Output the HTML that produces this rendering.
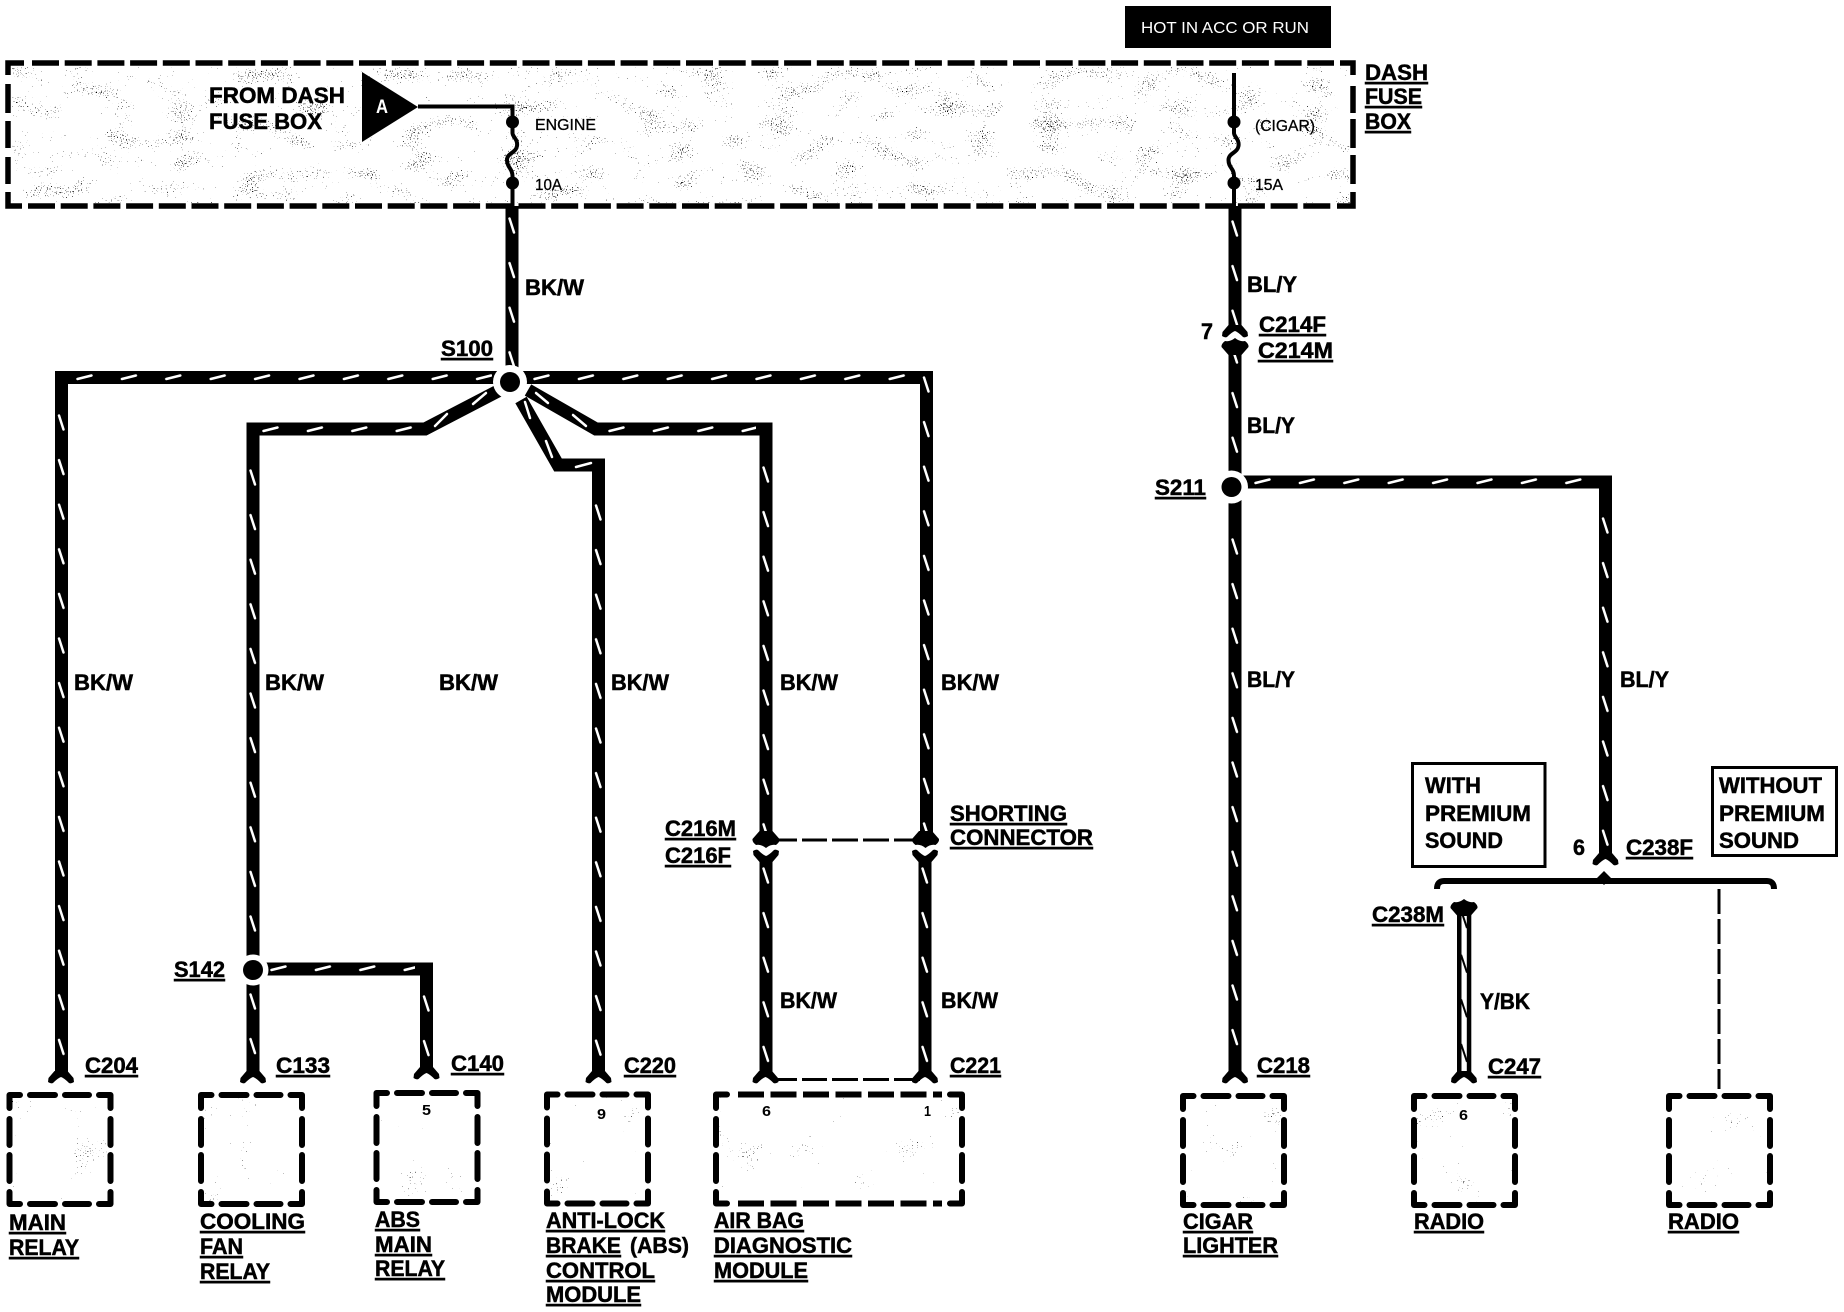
<!DOCTYPE html>
<html><head><meta charset="utf-8"><style>
html,body{margin:0;padding:0;background:#fff}
svg{display:block}
text{font-family:"Liberation Sans",Arial,sans-serif;fill:#000}
.b{font-weight:700;font-size:22px;stroke:#000;stroke-width:.5px}
.u{font-weight:700;font-size:22px;text-decoration:underline;stroke:#000;stroke-width:.5px}
.s{font-size:16px;stroke:#000;stroke-width:.3px}
.n{font-size:15px;font-weight:700}
.w{fill:none;stroke:#000;stroke-width:13;stroke-linejoin:miter}
.t{fill:none;stroke:#000;stroke-width:4}
.d{fill:none;stroke:#000;stroke-width:3}
.k{stroke:#fff;stroke-width:2.500;stroke-linecap:round}
</style></head><body>
<svg xmlns="http://www.w3.org/2000/svg" width="1844" height="1312" viewBox="0 0 1844 1312">
<defs>
<pattern id="vp" patternUnits="userSpaceOnUse" width="13" height="44.6"><line class="k" x1="4" y1="1.5" x2="8.5" y2="15.5"/></pattern>
<pattern id="hp" patternUnits="userSpaceOnUse" width="44.4" height="13"><line class="k" x1="1.5" y1="8" x2="15.5" y2="4.5"/></pattern>
<pattern id="zp" patternUnits="userSpaceOnUse" width="14" height="44.6"><line x1="4" y1="0" x2="10" y2="18" stroke="#000" stroke-width="2"/></pattern>
<filter id="st" x="0" y="0" width="1" height="1" color-interpolation-filters="sRGB">
<feTurbulence type="fractalNoise" baseFrequency="0.8" numOctaves="1" seed="3"/>
<feColorMatrix values="1 0 0 0 0 1 0 0 0 0 1 0 0 0 0 0 0 0 0 1" result="f"/>
<feTurbulence type="fractalNoise" baseFrequency="0.03 0.06" numOctaves="1" seed="8"/>
<feColorMatrix values="1 0 0 0 0 1 0 0 0 0 1 0 0 0 0 0 0 0 0 1" result="c"/>
<feComposite in="f" in2="c" operator="arithmetic" k1="0" k2="1" k3="0.5" k4="-0.2"/>
<feColorMatrix values="0 0 0 0 0 0 0 0 0 0 0 0 0 0 0 40 0 0 0 -32"/>
</filter>
<filter id="st2" x="0" y="0" width="1" height="1" color-interpolation-filters="sRGB">
<feTurbulence type="fractalNoise" baseFrequency="0.8" numOctaves="1" seed="11"/>
<feColorMatrix values="1 0 0 0 0 1 0 0 0 0 1 0 0 0 0 0 0 0 0 1" result="f"/>
<feTurbulence type="fractalNoise" baseFrequency="0.03" numOctaves="1" seed="5"/>
<feColorMatrix values="1 0 0 0 0 1 0 0 0 0 1 0 0 0 0 0 0 0 0 1" result="c"/>
<feComposite in="f" in2="c" operator="arithmetic" k1="0" k2="1" k3="0.5" k4="-0.27"/>
<feColorMatrix values="0 0 0 0 0 0 0 0 0 0 0 0 0 0 0 40 0 0 0 -32"/>
</filter>
<path id="box" fill="none" stroke="#000" stroke-width="6" stroke-linecap="round" stroke-linejoin="round" d="M0 13V0H10.500M20.500 0H45.500M55.500 0H79.500M89.500 0H101V13M101 24V50M101 60V86M101 97V109H89.500M79.500 109H55.500M45.500 109H20.500M10.500 109H0V97M0 86V60M0 50V24"/>
<path id="yf" d="M-6.500 -12L-12.500 -5L-13 -1Q-10 1 -8 0Q-3 -5 0 -6Q3 -5 8 0Q10 1 13 -1L12.500 -5L6.500 -12Z"/>
<path id="ar" d="M-6.500 -9L-13.500 -1Q-14 2 -10 5Q-5 4 0 8Q5 4 10 5Q14 2 13.500 -1L6.500 -9Z"/>
</defs>

<!-- stipple -->
<rect x="12" y="67" width="1338" height="136" fill="#000" filter="url(#st)"/>
<rect x="12" y="1098" width="96" height="103" fill="#000" filter="url(#st2)"/>
<rect x="204" y="1098" width="96" height="103" fill="#000" filter="url(#st2)"/>
<rect x="380" y="1096" width="96" height="103" fill="#000" filter="url(#st2)"/>
<rect x="550" y="1097" width="96" height="103" fill="#000" filter="url(#st2)"/>
<rect x="719" y="1097" width="240" height="103" fill="#000" filter="url(#st2)"/>
<rect x="1186" y="1099" width="96" height="103" fill="#000" filter="url(#st2)"/>
<rect x="1417" y="1099" width="96" height="103" fill="#000" filter="url(#st2)"/>
<rect x="1672" y="1099" width="96" height="103" fill="#000" filter="url(#st2)"/>

<!-- hot label -->
<rect x="1125" y="6" width="206" height="42" fill="#000"/>
<text x="1141" y="33" style="font-size:16px;fill:#fff" textLength="168" lengthAdjust="spacingAndGlyphs">HOT IN ACC OR RUN</text>

<!-- dash fuse box -->
<g fill="none" stroke="#000" stroke-width="5.500">
<path d="M8 75V63H24M8 192V206H22M1353 75V63H1340M1353 192V206H1337"/>
<path d="M8 84V113M8 121V148M8 157V184M1353 86V113M1353 119V148M1353 155V184"/>
<line x1="32" y1="63" x2="1334" y2="63" stroke-dasharray="27 5.700"/>
<line x1="28" y1="206" x2="1331" y2="206" stroke-dasharray="27 5.700"/>
</g>

<!-- triangle and fuses -->
<polygon points="362,72 418,107 362,142" fill="#000"/>
<text x="376" y="113" style="font-size:19px;fill:#fff;font-weight:700" textLength="12" lengthAdjust="spacingAndGlyphs">A</text>
<path class="t" d="M418 106.500H512.500V133C512.500 137 518 139 517 146C516 153 507 153 507 160C507 168 512.500 168 512.500 176V206"/>
<circle cx="512.500" cy="122" r="6.500"/><circle cx="512.500" cy="183" r="6.500"/>
<path class="t" d="M1234 73V133C1234 137 1239.500 139 1238.500 146C1237.500 153 1228.500 153 1228.500 160C1228.500 168 1234 168 1234 176V206"/>
<circle cx="1234" cy="122" r="6.500"/><circle cx="1234" cy="183" r="6.500"/>

<!-- wires left -->
<path class="w" d="M512 206V372"/>
<path class="w" d="M500 377.500H61.500V1072"/>
<path class="w" d="M500 377.500H926.500V838"/>
<path class="w" d="M500 390L425 429H253V1072"/>
<path class="w" d="M521 400L558 465H598.500V1072"/>
<path class="w" d="M528 390L596 429H766V838"/>
<path class="w" d="M253 969H426.500V1068"/>
<path class="w" d="M766 858V1072"/>
<path class="w" d="M925 858V1072"/>
<!-- wires right -->
<path class="w" d="M1235 206V326"/>
<path class="w" d="M1235 345V1072"/>
<path class="w" d="M1231 482H1605.500V856"/>

<!-- dashed links -->
<path class="d" d="M772 840H797M802 840H827M832 840H858M863 840H889M894 840H920"/>
<path class="d" d="M772 1079.500H797M802 1079.500H827M832 1079.500H858M863 1079.500H889M894 1079.500H920"/>

<!-- ticks -->
<rect x="0" y="0" width="13" height="153" transform="translate(505.500,217)" fill="url(#vp)"/>
<rect x="0" y="0" width="13" height="658" transform="translate(55,414)" fill="url(#vp)"/>
<rect x="0" y="0" width="13" height="480" transform="translate(246.500,469)" fill="url(#vp)"/>
<rect x="0" y="0" width="13" height="78" transform="translate(246.500,993)" fill="url(#vp)"/>
<rect x="0" y="0" width="13" height="568" transform="translate(592,504)" fill="url(#vp)"/>
<rect x="0" y="0" width="13" height="372" transform="translate(759.500,466)" fill="url(#vp)"/>
<rect x="0" y="0" width="13" height="462" transform="translate(920,376)" fill="url(#vp)"/>
<rect x="0" y="0" width="13" height="205" transform="translate(759.500,867)" fill="url(#vp)"/>
<rect x="0" y="0" width="13" height="205" transform="translate(918.500,867)" fill="url(#vp)"/>
<rect x="0" y="0" width="13" height="75" transform="translate(420,995)" fill="url(#vp)"/>
<rect x="0" y="0" width="13" height="106" transform="translate(1228.500,220)" fill="url(#vp)"/>
<rect x="0" y="0" width="13" height="120" transform="translate(1228.500,347)" fill="url(#vp)"/>
<rect x="0" y="0" width="13" height="534" transform="translate(1228.500,538)" fill="url(#vp)"/>
<rect x="0" y="0" width="13" height="339" transform="translate(1599,517)" fill="url(#vp)"/>
<rect x="0" y="0" width="416" height="13" transform="translate(76,371)" fill="url(#hp)"/>
<rect x="0" y="0" width="382" height="13" transform="translate(533,371)" fill="url(#hp)"/>
<rect x="0" y="0" width="160" height="13" transform="translate(262,423)" fill="url(#hp)"/>
<rect x="0" y="0" width="148" height="13" transform="translate(608,423)" fill="url(#hp)"/>
<rect x="0" y="0" width="145" height="13" transform="translate(270,962)" fill="url(#hp)"/>
<rect x="0" y="0" width="336" height="13" transform="translate(1254,475)" fill="url(#hp)"/>
<g>
<line class="k" x1="435" y1="426" x2="447" y2="414"/><line class="k" x1="473" y1="404" x2="486" y2="393"/>
<line class="k" x1="536" y1="393" x2="548" y2="403"/><line class="k" x1="573" y1="415" x2="586" y2="426"/>
<line class="k" x1="525" y1="402" x2="530" y2="418"/><line class="k" x1="546" y1="441" x2="552" y2="457"/>
<line class="k" x1="576" y1="467" x2="591" y2="463"/>
</g>

<!-- splices -->
<circle cx="510" cy="382" r="17" fill="#fff"/><circle cx="510" cy="382" r="10"/>
<circle cx="253" cy="970" r="15.500" fill="#fff"/><circle cx="253" cy="970" r="10"/>
<circle cx="1231.500" cy="487" r="16.500" fill="#fff"/><circle cx="1231.500" cy="487" r="10"/>

<!-- connectors at boxes -->
<use href="#yf" transform="translate(61,1083)"/>
<use href="#yf" transform="translate(253,1083)"/>
<use href="#yf" transform="translate(426.500,1079)"/>
<use href="#yf" transform="translate(598.500,1083)"/>
<use href="#yf" transform="translate(765.500,1083)"/>
<use href="#yf" transform="translate(925,1083)"/>
<use href="#yf" transform="translate(1235,1083)"/>
<use href="#yf" transform="translate(1464,1083)"/>
<use href="#yf" transform="translate(1605.500,865)"/>
<!-- C216 -->
<use href="#ar" transform="translate(766,840)"/>
<use href="#ar" transform="translate(925.500,840)"/>
<use href="#yf" transform="translate(766,850) scale(1,-1)"/>
<use href="#yf" transform="translate(925,850) scale(1,-1)"/>
<!-- C214 -->
<use href="#yf" transform="translate(1235,337)"/>
<use href="#ar" transform="translate(1235,346) scale(1,-1)"/>

<!-- C238M radio wire -->
<use href="#ar" transform="translate(1464,907) scale(1,-1)"/>
<rect x="1457" y="905" width="4.500" height="170"/><rect x="1466.800" y="905" width="4.500" height="170"/>
<rect x="0" y="0" width="14" height="165" transform="translate(1457,910)" fill="url(#zp)"/>

<!-- bracket -->
<path d="M1437 889Q1437 881 1444 881H1767Q1774 881 1774 889" fill="none" stroke="#000" stroke-width="6"/>
<polygon points="1597,878 1604,871 1611,878 1604,885"/>
<path d="M1719 889V1089" fill="none" stroke="#000" stroke-width="3" stroke-dasharray="25 5"/>

<!-- component boxes -->
<use href="#box" transform="translate(9.500,1095)"/>
<use href="#box" transform="translate(201,1095)"/>
<use href="#box" transform="translate(376.500,1093)"/>
<use href="#box" transform="translate(547,1094.500)"/>
<use href="#box" transform="translate(1183,1096)"/>
<use href="#box" transform="translate(1414,1096)"/>
<use href="#box" transform="translate(1669,1096)"/>
<path fill="none" stroke="#000" stroke-width="6" stroke-linecap="round" stroke-linejoin="round" d="M716 1108V1094.500H727M962 1108V1094.500H950M716 1119V1145M716 1155V1181M716 1192V1203.500H727M962 1119V1145M962 1155V1181M962 1192V1203.500H950"/>
<line x1="738" y1="1094.500" x2="942" y2="1094.500" stroke="#000" stroke-width="6" stroke-dasharray="26 6.500"/>
<line x1="738" y1="1203.500" x2="942" y2="1203.500" stroke="#000" stroke-width="6" stroke-dasharray="26 6.500"/>

<!-- premium boxes -->
<rect x="1412.500" y="763.500" width="132.500" height="103" fill="none" stroke="#000" stroke-width="3"/>
<rect x="1712.500" y="767.500" width="124" height="88" fill="none" stroke="#000" stroke-width="3"/>

<!-- labels -->
<text x="209" y="103" class="b" textLength="136" lengthAdjust="spacingAndGlyphs">FROM DASH</text>
<text x="209" y="129" class="b" textLength="113" lengthAdjust="spacingAndGlyphs">FUSE BOX</text>
<text x="535" y="130" class="s" textLength="61" lengthAdjust="spacingAndGlyphs">ENGINE</text>
<text x="535" y="190" class="s" textLength="27" lengthAdjust="spacingAndGlyphs">10A</text>
<text x="1255" y="131" class="s" textLength="60" lengthAdjust="spacingAndGlyphs">(CIGAR)</text>
<text x="1255" y="190" class="s" textLength="28" lengthAdjust="spacingAndGlyphs">15A</text>
<text x="1365" y="80" class="u" textLength="63" lengthAdjust="spacingAndGlyphs">DASH</text>
<text x="1365" y="104" class="u" textLength="57" lengthAdjust="spacingAndGlyphs">FUSE</text>
<text x="1365" y="129" class="u" textLength="46" lengthAdjust="spacingAndGlyphs">BOX</text>

<text x="525" y="295" class="b" textLength="59" lengthAdjust="spacingAndGlyphs">BK/W</text>
<text x="441" y="356" class="u" textLength="52" lengthAdjust="spacingAndGlyphs">S100</text>
<text x="74" y="690" class="b" textLength="59" lengthAdjust="spacingAndGlyphs">BK/W</text>
<text x="265" y="690" class="b" textLength="59" lengthAdjust="spacingAndGlyphs">BK/W</text>
<text x="439" y="690" class="b" textLength="59" lengthAdjust="spacingAndGlyphs">BK/W</text>
<text x="611" y="690" class="b" textLength="58" lengthAdjust="spacingAndGlyphs">BK/W</text>
<text x="780" y="690" class="b" textLength="58" lengthAdjust="spacingAndGlyphs">BK/W</text>
<text x="941" y="690" class="b" textLength="58" lengthAdjust="spacingAndGlyphs">BK/W</text>
<text x="780" y="1008" class="b" textLength="57" lengthAdjust="spacingAndGlyphs">BK/W</text>
<text x="941" y="1008" class="b" textLength="57" lengthAdjust="spacingAndGlyphs">BK/W</text>

<text x="1247" y="292" class="b" textLength="50" lengthAdjust="spacingAndGlyphs">BL/Y</text>
<text x="1247" y="433" class="b" textLength="48" lengthAdjust="spacingAndGlyphs">BL/Y</text>
<text x="1247" y="687" class="b" textLength="48" lengthAdjust="spacingAndGlyphs">BL/Y</text>
<text x="1620" y="687" class="b" textLength="49" lengthAdjust="spacingAndGlyphs">BL/Y</text>
<text x="1480" y="1009" class="b" textLength="50" lengthAdjust="spacingAndGlyphs">Y/BK</text>
<text x="1201" y="339" class="b" textLength="12" lengthAdjust="spacingAndGlyphs">7</text>
<text x="1573" y="855" class="b" textLength="12" lengthAdjust="spacingAndGlyphs">6</text>

<text x="1259" y="332" class="u" textLength="67" lengthAdjust="spacingAndGlyphs">C214F</text>
<text x="1258" y="358" class="u" textLength="75" lengthAdjust="spacingAndGlyphs">C214M</text>
<text x="1155" y="495" class="u" textLength="51" lengthAdjust="spacingAndGlyphs">S211</text>
<text x="174" y="977" class="u" textLength="51" lengthAdjust="spacingAndGlyphs">S142</text>
<text x="665" y="836" class="u" textLength="71" lengthAdjust="spacingAndGlyphs">C216M</text>
<text x="665" y="863" class="u" textLength="66" lengthAdjust="spacingAndGlyphs">C216F</text>
<text x="950" y="821" class="u" textLength="117" lengthAdjust="spacingAndGlyphs">SHORTING</text>
<text x="950" y="845" class="u" textLength="143" lengthAdjust="spacingAndGlyphs">CONNECTOR</text>
<text x="1626" y="855" class="u" textLength="67" lengthAdjust="spacingAndGlyphs">C238F</text>
<text x="1372" y="922" class="u" textLength="72" lengthAdjust="spacingAndGlyphs">C238M</text>

<text x="85" y="1073" class="u" textLength="53" lengthAdjust="spacingAndGlyphs">C204</text>
<text x="276" y="1073" class="u" textLength="54" lengthAdjust="spacingAndGlyphs">C133</text>
<text x="451" y="1071" class="u" textLength="53" lengthAdjust="spacingAndGlyphs">C140</text>
<text x="624" y="1073" class="u" textLength="52" lengthAdjust="spacingAndGlyphs">C220</text>
<text x="950" y="1073" class="u" textLength="51" lengthAdjust="spacingAndGlyphs">C221</text>
<text x="1257" y="1073" class="u" textLength="53" lengthAdjust="spacingAndGlyphs">C218</text>
<text x="1488" y="1074" class="u" textLength="53" lengthAdjust="spacingAndGlyphs">C247</text>

<text x="422" y="1115" class="n" textLength="9" lengthAdjust="spacingAndGlyphs">5</text>
<text x="597" y="1119" class="n" textLength="9" lengthAdjust="spacingAndGlyphs">9</text>
<text x="762" y="1116" class="n" textLength="9" lengthAdjust="spacingAndGlyphs">6</text>
<text x="924" y="1116" class="n" textLength="7" lengthAdjust="spacingAndGlyphs">1</text>
<text x="1459" y="1120" class="n" textLength="9" lengthAdjust="spacingAndGlyphs">6</text>

<text x="1425" y="793" class="b" textLength="56" lengthAdjust="spacingAndGlyphs">WITH</text>
<text x="1425" y="821" class="b" textLength="106" lengthAdjust="spacingAndGlyphs">PREMIUM</text>
<text x="1425" y="848" class="b" textLength="78" lengthAdjust="spacingAndGlyphs">SOUND</text>
<text x="1719" y="793" class="b" textLength="103" lengthAdjust="spacingAndGlyphs">WITHOUT</text>
<text x="1719" y="821" class="b" textLength="106" lengthAdjust="spacingAndGlyphs">PREMIUM</text>
<text x="1719" y="848" class="b" textLength="80" lengthAdjust="spacingAndGlyphs">SOUND</text>

<text x="9" y="1230" class="u" textLength="57" lengthAdjust="spacingAndGlyphs">MAIN</text>
<text x="9" y="1255" class="u" textLength="70" lengthAdjust="spacingAndGlyphs">RELAY</text>
<text x="200" y="1229" class="u" textLength="105" lengthAdjust="spacingAndGlyphs">COOLING</text>
<text x="200" y="1254" class="u" textLength="43" lengthAdjust="spacingAndGlyphs">FAN</text>
<text x="200" y="1279" class="u" textLength="70" lengthAdjust="spacingAndGlyphs">RELAY</text>
<text x="375" y="1227" class="u" textLength="45" lengthAdjust="spacingAndGlyphs">ABS</text>
<text x="375" y="1252" class="u" textLength="57" lengthAdjust="spacingAndGlyphs">MAIN</text>
<text x="375" y="1276" class="u" textLength="70" lengthAdjust="spacingAndGlyphs">RELAY</text>
<text x="546" y="1228" class="u" textLength="119" lengthAdjust="spacingAndGlyphs">ANTI-LOCK</text>
<text x="546" y="1253" class="u" textLength="75" lengthAdjust="spacingAndGlyphs">BRAKE</text>
<text x="630" y="1253" class="b" textLength="59" lengthAdjust="spacingAndGlyphs">(ABS)</text>
<text x="546" y="1278" class="u" textLength="109" lengthAdjust="spacingAndGlyphs">CONTROL</text>
<text x="546" y="1302" class="u" textLength="95" lengthAdjust="spacingAndGlyphs">MODULE</text>
<text x="714" y="1228" class="u" textLength="90" lengthAdjust="spacingAndGlyphs">AIR BAG</text>
<text x="714" y="1253" class="u" textLength="138" lengthAdjust="spacingAndGlyphs">DIAGNOSTIC</text>
<text x="714" y="1278" class="u" textLength="94" lengthAdjust="spacingAndGlyphs">MODULE</text>
<text x="1183" y="1229" class="u" textLength="70" lengthAdjust="spacingAndGlyphs">CIGAR</text>
<text x="1183" y="1253" class="u" textLength="95" lengthAdjust="spacingAndGlyphs">LIGHTER</text>
<text x="1414" y="1229" class="u" textLength="70" lengthAdjust="spacingAndGlyphs">RADIO</text>
<text x="1668" y="1229" class="u" textLength="71" lengthAdjust="spacingAndGlyphs">RADIO</text>
</svg>
</body></html>
